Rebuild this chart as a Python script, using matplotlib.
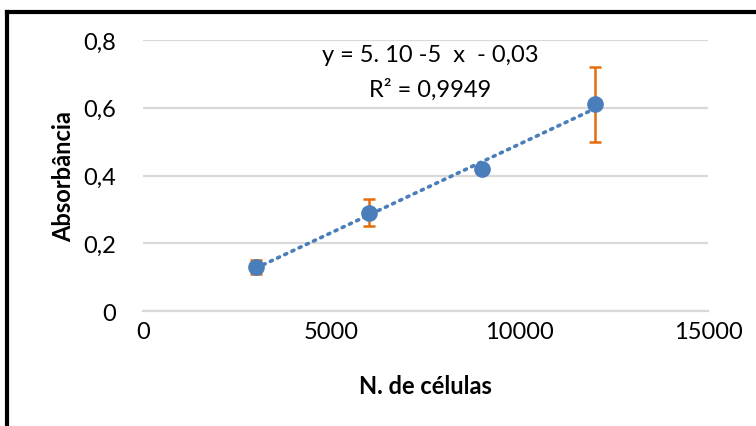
import numpy as np
import matplotlib
matplotlib.use("Agg")
import matplotlib.pyplot as plt
from matplotlib.lines import Line2D

cells = [3000, 6000, 9000, 12000]
absorb = [0.13, 0.29, 0.42, 0.61]
err = [0.02, 0.04, 0.0, 0.11]
xticks = [0, 5000, 10000, 15000]
yticks = [0, 0.2, 0.4, 0.6, 0.8]
ytick_labels = ["0", "0,2", "0,4", "0,6", "0,8"]
eq_text = "y = 5. 10 -5  x  - 0,03"
r2_text = "R² = 0,9949"

plt.rcParams['font.family'] = ['Lato', 'DejaVu Sans']

fig = plt.figure(figsize=(7.56, 4.27), dpi=100)
ax = fig.add_axes([0.189, 0.269, 0.748, 0.635])

blue = "#4A7EBB"
orange = "#E46C0A"
grid = "#D9D9D9"

# trendline
coef = np.polyfit(cells, absorb, 1)
xt = np.array([cells[0], cells[-1]])
ax.plot(xt, np.polyval(coef, xt), linestyle=(0, (0.6, 1.6)), color=blue,
        linewidth=2.6, dash_capstyle='round', zorder=2)

ax.errorbar(cells, absorb, yerr=err, fmt='none', ecolor=orange, elinewidth=1.8,
            capsize=4.5, capthick=1.8, zorder=3)
ax.plot(cells, absorb, 'o', color=blue, markersize=11, zorder=4)

ax.set_xlim(0, 15000)
ax.set_ylim(0, 0.8)
ax.set_xticks(xticks)
ax.set_xticklabels([str(v) for v in xticks])
ax.set_yticks(yticks)
ax.set_yticklabels(ytick_labels)
ax.yaxis.grid(True, color=grid, linewidth=1.6)
ax.set_axisbelow(True)
for s in ['top', 'right', 'left']:
    ax.spines[s].set_visible(False)
ax.spines['bottom'].set_color(grid)
ax.spines['bottom'].set_linewidth(1.6)
ax.tick_params(axis='y', length=0, pad=19, labelsize=17)
ax.tick_params(axis='x', length=0, pad=7, labelsize=17)

ax.set_xlabel("N. de células", fontsize=17, fontweight='bold')
ax.set_ylabel("Absorbância", fontsize=17, fontweight='bold')
ax.xaxis.set_label_coords(0.5, -0.232)
ax.yaxis.set_label_coords(-0.119, 0.5)

ax.text(7620, 0.758, eq_text, ha='center', va='center', fontsize=17)
ax.text(7620, 0.655, r2_text, ha='center', va='center', fontsize=17)

# outer frame (top and left visible)
fig.add_artist(Line2D([7/756, 1.0], [1 - 13/427, 1 - 13/427], color='black', linewidth=3,
                      transform=fig.transFigure))
fig.add_artist(Line2D([7/756, 7/756], [0, 1 - 13/427], color='black', linewidth=3,
                      transform=fig.transFigure))

fig.savefig("out.png", dpi=100)
